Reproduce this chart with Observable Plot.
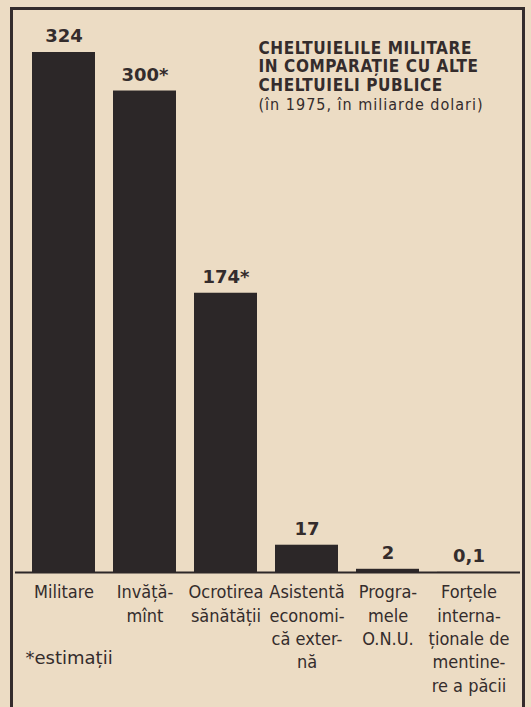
<!DOCTYPE html>
<html>
<head>
<meta charset="utf-8">
<script src="https://cdn.jsdelivr.net/npm/d3@7"></script>
<script src="https://cdn.jsdelivr.net/npm/@observablehq/plot@0.6"></script>
<style>
  html, body { margin: 0; padding: 0; background: #ecdcc4; overflow: hidden; }
  #wrap { position: relative; width: 531px; height: 707px; }
  #border { position: absolute; left: 10px; top: 7px; width: 509px; height: 720px;
            border: 3px solid #342c2c; border-bottom: none; pointer-events: none; }
  svg { background: transparent !important; }
  .sub text { letter-spacing: 1px; }
  .ttl text { letter-spacing: 0.6px; }
</style>
</head>
<body>
<div id="wrap"><div id="border"></div></div>
<script>
const categories = ["Militare", "Invățămînt", "Ocrotirea sănătății", "Asistență economică externă", "Programele O.N.U.", "Forțele internaționale de menținere a păcii"];
const axisLabels = ["Militare", "Invăță-\nmînt", "Ocrotirea\nsănătății", "Asistentă\neconomi-\ncă exter-\nnă", "Progra-\nmele\nO.N.U.", "Forțele\ninterna-\nționale de\nmentine-\nre a păcii"];
const values = [324, 300, 174, 17, 2, 0.1];
const valueLabels = ["324", "300*", "174*", "17", "2", "0,1"];
const titleLines = ["CHELTUIELILE MILITARE", "IN COMPARAȚIE CU ALTE", "CHELTUIELI PUBLICE"];
const subtitle = "(în 1975, în miliarde dolari)";
const footnote = "*estimații";

const data = categories.map((c, i) => ({cat: c, value: values[i], vlabel: valueLabels[i], alabel: axisLabels[i]}));
const titleData = titleLines.map((t, i) => ({t, i}));

const ink = "#2c2728";
const textInk = "#342c2c";
const condensed = "'DejaVu Sans Condensed', sans-serif";

const chart = Plot.plot({
  width: 531,
  height: 707,
  marginTop: 52,
  marginBottom: 135,
  marginLeft: 15,
  marginRight: 11,
  style: {background: "transparent"},
  x: {domain: categories, range: [21.5, 510], paddingInner: 0.22, paddingOuter: 0.11, axis: null},
  y: {domain: [0, 324], axis: null},
  marks: [
    Plot.barY(data, {x: "cat", y: "value", fill: ink}),
    Plot.ruleY([0], {stroke: ink, strokeWidth: 2}),
    Plot.text(data, {x: "cat", y: "value", text: "vlabel", dy: -16, fontSize: 18, fontWeight: "bold",
      fontFamily: "'DejaVu Sans', sans-serif", fill: textInk}),
    Plot.text(data, {x: "cat", y: 0, text: "alabel", lineAnchor: "top", dy: 9, fontSize: 18,
      lineHeight: 1.3, fontFamily: condensed, fill: textInk}),
    ...titleData.map(d => Plot.text([d.t], {frameAnchor: "top-left", dx: 243, dy: -4 + d.i * 18.5, lineAnchor: "middle",
      className: "ttl", textAnchor: "start", fontSize: 17, fontWeight: "bold", fontFamily: condensed, fill: textInk})),
    Plot.text([subtitle], {frameAnchor: "top-left", dx: 243, dy: 52, lineAnchor: "middle", className: "sub",
      textAnchor: "start", fontSize: 16, fontFamily: condensed, fill: textInk}),
    Plot.text([footnote], {frameAnchor: "bottom-left", dx: 10, dy: 86, lineAnchor: "middle",
      textAnchor: "start", fontSize: 18, fontFamily: "'DejaVu Sans', sans-serif", fill: textInk})
  ]
});
document.getElementById("wrap").appendChild(chart);
chart.style.position = "absolute";
chart.style.left = "0px";
chart.style.top = "0px";
</script>
</body>
</html>
